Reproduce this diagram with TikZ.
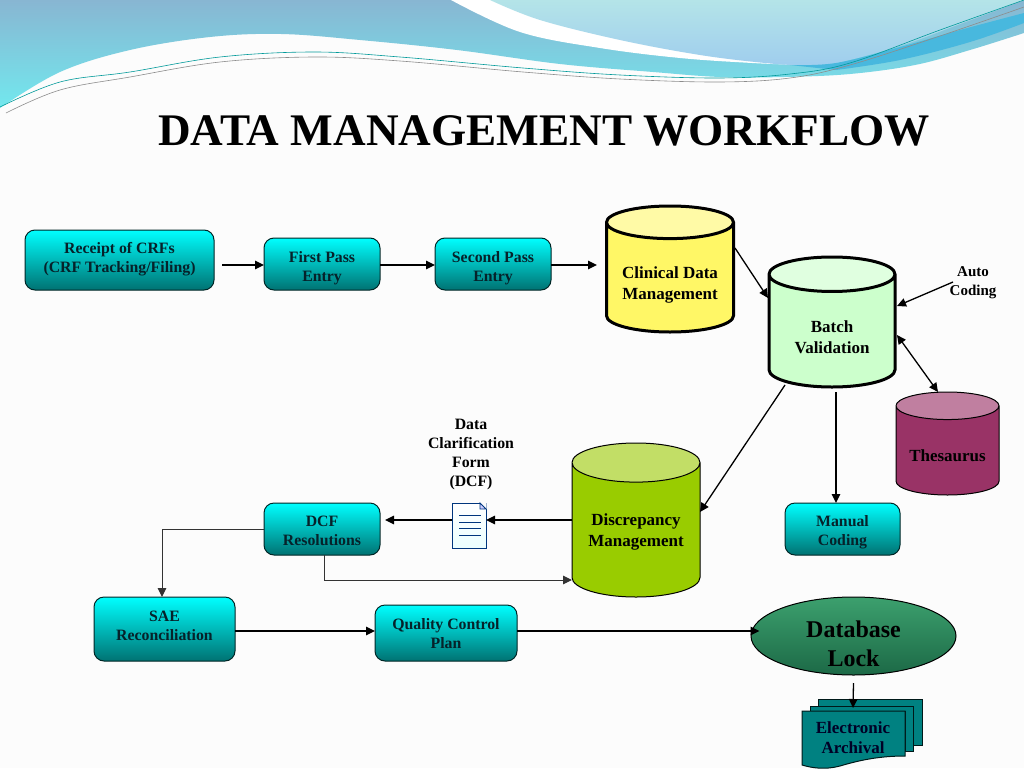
\documentclass[tikz,border=0pt]{standalone}
\usepackage{fontspec}
\setmainfont{Liberation Serif}
\usetikzlibrary{shapes.symbols,shapes.geometric,arrows.meta,calc}
\definecolor{ink}{HTML}{06222A}
\definecolor{skytop}{HTML}{88B6D2}
\definecolor{skybot}{HTML}{72E8EE}
\definecolor{lighttop}{HTML}{B4E4E8}
\definecolor{lightbot}{HTML}{9FCDEE}
\definecolor{band}{HTML}{48B8DE}
\newcommand\tx[2]{\raisebox{\dimexpr-4pt-#1pt\relax}[0pt][0pt]{\begin{tabular}{@{}c@{}}#2\end{tabular}}}
\tikzset{
  flowbox/.style={draw=black!70!teal,line width=1pt,rounded corners=10pt,top color=cyan,bottom color=black!30!teal!85!cyan,
    inner sep=0pt,outer sep=0pt,text=ink,font=\fontsize{15.8}{19}\selectfont\bfseries},
  store/.style={cylinder,anchor=shape center,shape border rotate=90,draw=black,cylinder uses custom fill,inner sep=0pt,outer sep=0pt,
    font=\fontsize{17}{21}\selectfont\bfseries,text=black},
  plain/.style={align=center,inner sep=0pt,outer sep=0pt,font=\fontsize{15.8}{19}\selectfont\bfseries,text=black},
  arr/.style={line width=1.3pt,draw=black,-{Triangle[length=9pt,width=8.5pt]}},
  arrthin/.style={arr,line width=1pt,draw=black!80},
  arrb/.style={line width=1.3pt,draw=black,{Triangle[length=9pt,width=8.5pt]}-{Triangle[length=9pt,width=8.5pt]}},
  sheet/.style={draw=black!80!teal,line width=1pt,fill=black!10!teal!90!cyan},
}
\begin{document}
\begin{tikzpicture}[x=1pt,y=-1pt]
\useasboundingbox (0,0) rectangle (1024,768);
\fill[black!1] (0,0) rectangle (1024,768);
% header swooshes
\shade[top color=skytop,bottom color=skybot] plot[smooth,tension=0.6] coordinates {(0,108) (60,72) (130,50) (210,37) (281,34) (360,40) (457,50) (560,64) (653,72) (720,77) (784,77) (850,74) (915,65) (970,50) (1024,33)} -- (1024,0) -- (0,0) -- cycle;
\fill[white] plot[smooth,tension=0.6] coordinates {(451,0) (520,32) (600,48) (680,58) (752,63) (800,65)} -- (836,63) -- (1024,0) -- cycle;
\shade[top color=lighttop,bottom color=lightbot] plot[smooth,tension=0.6] coordinates {(490,0) (540,20) (620,40) (700,55) (765,63) (800,65) (836,63) (900,46) (960,24) (1024,0)} -- cycle;
\fill[band] plot[smooth,tension=0.6] coordinates {(790,65) (836,63) (900,47) (960,30) (1024,13)} -- (1024,23) -- plot[smooth,tension=0.6] coordinates {(1024,23) (970,42) (900,60) (836,70)} -- cycle;
\draw[teal!80!cyan,line width=0.6pt] plot[smooth,tension=0.6] coordinates {(0,107) (60,82) (130,72) (220,57) (314,52) (400,57) (523,68) (620,75) (719,78) (790,74) (850,63) (940,30) (1024,0)};
\draw[black!45,line width=0.6pt] plot[smooth,tension=0.6] coordinates {(6,113) (60,90) (130,77) (220,62) (314,57) (400,61) (523,72) (620,79) (719,82) (790,78) (850,65) (940,36) (1024,7)};
% title
\node (title) [inner sep=0pt,font=\fontsize{45.2}{50}\selectfont\bfseries,text=black] at (544,131) {DATA MANAGEMENT WORKFLOW};
% boxes
\node (receipt) [flowbox,minimum width=189pt,minimum height=60pt] at (119.5,260) {\tx{-1}{Receipt of CRFs\\(CRF Tracking/Filing)}};
\node (first) [flowbox,minimum width=116pt,minimum height=52pt] at (322,264) {\tx{4}{First Pass\\Entry}};
\node (second) [flowbox,minimum width=116pt,minimum height=52pt] at (493,264) {\tx{4}{Second Pass\\Entry}};
\node (dcf) [flowbox,minimum width=116pt,minimum height=52pt] at (322,529) {\tx{2.5}{DCF\\Resolutions}};
\node (manual) [flowbox,minimum width=115pt,minimum height=52pt] at (842.5,529) {\tx{2.5}{Manual\\Coding}};
\node (sae) [flowbox,minimum width=141pt,minimum height=64pt] at (164.5,629) {\tx{-2}{SAE\\Reconciliation}};
\node (qc) [flowbox,minimum width=142pt,minimum height=56pt] at (446,633) {\tx{2}{Quality Control\\Plan}};
% stores
\node (clin) [store,line width=3pt,minimum width=127pt,minimum height=126pt,aspect=0.34,cylinder body fill=yellow!60,cylinder end fill=yellow!35] at (670,269) {\tx{7}{Clinical Data\\Management}};
\node (batch) [store,line width=3pt,minimum width=126pt,minimum height=130pt,aspect=0.46,cylinder body fill=green!20,cylinder end fill=green!12] at (832,322) {\tx{8}{Batch\\Validation}};
\node (thes) [store,line width=1pt,minimum width=103pt,minimum height=103pt,aspect=0.36,cylinder body fill={rgb,255:red,153;green,51;blue,102},cylinder end fill={rgb,255:red,192;green,127;blue,160}] at (947.5,443.5) {\tx{7}{Thesaurus}};
\node (disc) [store,line width=1pt,minimum width=128pt,minimum height=154pt,aspect=0.41,cylinder body fill={rgb,255:red,153;green,204;blue,0},cylinder end fill={rgb,255:red,194;green,222;blue,102}] at (636,520) {\tx{2}{Discrepancy\\Management}};
\node (db) [ellipse,draw=black,line width=1pt,top color={rgb,255:red,60;green,160;blue,110},bottom color={rgb,255:red,28;green,105;blue,70},minimum width=205pt,minimum height=78pt,inner sep=0pt,outer sep=0pt,font=\fontsize{24}{29}\selectfont\bfseries,text=black] at (853.5,636) {\raisebox{-16pt}[0pt][0pt]{\begin{tabular}{@{}c@{}}Database\\Lock\end{tabular}}};
% document icon
\node (doc) [draw=blue!40!teal!70!black,line width=0.8pt,top color=white,bottom color=cyan!8,minimum width=34pt,minimum height=45pt,inner sep=0pt,outer sep=0pt] at (469,525.5) {};
\fill[black!1] (480,503) -- (486.5,502.5) -- (486.5,509) -- cycle;
\draw[blue!40!teal!70!black,line width=0.8pt,fill=blue!20] (480,503) -- (486,509) -- (480,509) -- cycle;
\foreach \yy in {515,522,528,535} \draw[blue!40!teal!70!black,line width=0.8pt] (459,\yy) -- (481,\yy);
% archive stack
\draw[sheet] (818,699) -- (922,699) -- (922,745) -- (905,745) -- (905,711) -- (818,711) -- cycle;
\draw[sheet] (810,706) -- (913,706) -- (913,751) -- (905,751) -- (905,711) -- (810,711) -- cycle;
\draw[sheet] (802,711) -- (905,711) -- (905,756) .. controls (880,756) and (860,760) .. (840,766) .. controls (825,770) and (812,768) .. (802,765) -- cycle;
\node (arch) [plain,text=black!85!blue,font=\fontsize{17}{20}\selectfont\bfseries] at (853,738) {Electronic\\Archival};
% free texts
\node (dcfform) [plain] at (471,455) {Data\\Clarification\\Form\\(DCF)};
\node (auto) [plain,font=\fontsize{15}{19}\selectfont\bfseries] at (973,283) {Auto\\Coding};
% connectors
\draw[arr] ($(receipt)+(102.5,5)$) -- ($(first)+(-58,1)$);
\draw[arr] ($(first)+(58,1)$) -- ($(second)+(-58,1)$);
\draw[arr] ($(second)+(58,1)$) -- ($(clin.shape center)+(-73,-4)$);
\draw[arr] ($(clin.shape center)+(65,-21)$) -- ($(batch.shape center)+(-64,-24)$);
\draw[arr] ($(auto)+(-20,-1)$) -- ($(batch.shape center)+(65,-16)$);
\draw[arrb] ($(batch.shape center)+(65,13)$) -- ($(thes.shape center)+(-9.5,-51.5)$);
\draw[arr] ($(batch.shape center)+(-47,63)$) -- ($(disc.shape center)+(64,-8)$);
\draw[arr] ($(batch.shape center)+(4,70)$) -- ($(manual)+(-6.5,-26)$);
\draw[arr] ($(disc.shape center)+(-64,0)$) -- ($(doc)+(17,-5.5)$);
\draw[arr] ($(doc)+(-17,-5.5)$) -- ($(dcf)+(63,-9)$);
\draw[arrthin] ($(dcf)+(-58,0)$) -| ($(sae)+(-2.5,-32)$);
\draw[arrthin] ($(dcf)+(2,26)$) |- ($(disc.shape center)+(-64,60)$);
\draw[arr] ($(sae)+(70.5,2)$) -- ($(qc)+(-71,-2)$);
\draw[arr] ($(qc)+(71,-2)$) -- ($(db)+(-94,-5)$);
\draw[arr] ($(db)+(0,47)$) -- ($(arch)+(0,-30)$);
\end{tikzpicture}
\end{document}
